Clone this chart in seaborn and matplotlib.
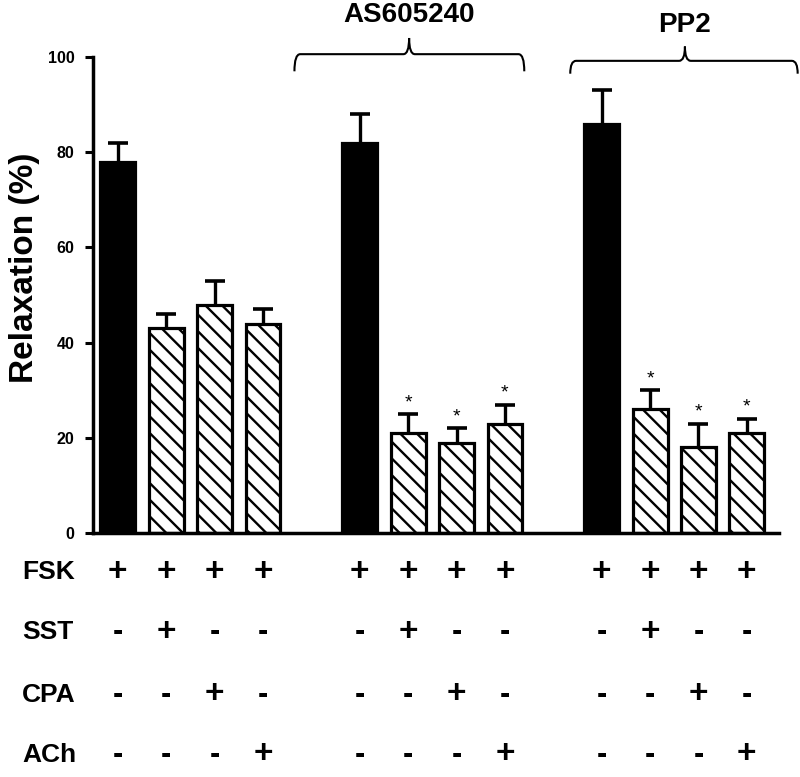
import numpy as np
import pandas as pd
import matplotlib
matplotlib.use("Agg")
import matplotlib.pyplot as plt
import seaborn as sns
from matplotlib.path import Path
from matplotlib.patches import PathPatch
from matplotlib.transforms import blended_transform_factory

# ---------------- data ----------------
positions = [0, 1, 2, 3, 5, 6, 7, 8, 10, 11, 12, 13]
values = [78, 43, 48, 44, 82, 21, 19, 23, 86, 26, 18, 21]
errors = [4, 3, 5, 3, 6, 4, 3, 4, 7, 4, 5, 3]
kinds = ["ctrl", "treat", "treat", "treat"] * 3
significant = [False, False, False, False,
               False, True, True, True,
               False, True, True, True]
row_labels = ["FSK", "SST", "CPA", "ACh"]
fsk = ["+", "+", "+", "+"] * 3
sst = ["-", "+", "-", "-"] * 3
cpa = ["-", "-", "+", "-"] * 3
ach = ["-", "-", "-", "+"] * 3
group_labels = ["AS605240", "PP2"]
y_ticks = [0, 20, 40, 60, 80, 100]

df = pd.DataFrame({"pos": positions, "value": values, "err": errors, "kind": kinds})

# ---------------- style ----------------
sns.set_style("ticks")
plt.rcParams["font.family"] = ["Liberation Sans", "DejaVu Sans"]
plt.rcParams["text.color"] = "black"
plt.rcParams["axes.labelcolor"] = "black"
plt.rcParams["xtick.color"] = "black"
plt.rcParams["ytick.color"] = "black"
plt.rcParams["axes.edgecolor"] = "black"
plt.rcParams["hatch.linewidth"] = 1.7

fig = plt.figure(figsize=(8, 7.77), dpi=100)
ax = fig.add_axes([0.116, 0.314, 0.8575, 0.6126])

sns.barplot(data=df, x="pos", y="value", hue="kind",
            palette={"ctrl": "black", "treat": "white"},
            native_scale=True, dodge=False, width=0.72,
            edgecolor="black", linewidth=2.3, errorbar=None,
            legend=False, ax=ax, zorder=2)

for p in ax.patches:
    fc = p.get_facecolor()
    if fc[0] > 0.5:
        p.set_hatch("\\\\")

_, caps, _ = ax.errorbar(df["pos"], df["value"],
                         yerr=[np.zeros(len(df)), df["err"]],
                         fmt="none", ecolor="black", elinewidth=2.4,
                         capsize=7, capthick=2.6, zorder=1)
# keep only the upper caps
for cap in caps:
    if np.allclose(np.asarray(cap.get_ydata(), dtype=float), df["value"].values):
        cap.set_visible(False)

for x, v, e, s in zip(positions, values, errors, significant):
    if s:
        ax.text(x, v + e + 2.4, "*", ha="center", va="center", fontsize=14,
                color="black")

ax.set_xlim(-0.517, 13.66)
ax.set_ylim(0, 100)
ax.set_yticks(y_ticks)
ax.set_yticklabels([str(t) for t in y_ticks], fontsize=11.5, fontweight="bold")
ax.set_xticks([])
ax.set_xlabel("")
ax.set_ylabel("")
ax.tick_params(axis="y", direction="out", length=6, width=2.2, pad=7)
sns.despine(ax=ax)
for side in ("left", "bottom"):
    ax.spines[side].set_linewidth(2.5)

fig.text(25 / 800, 1 - 268 / 777, "Relaxation (%)", rotation=90,
         ha="center", va="center", fontsize=24, fontweight="bold")

# ---------------- brackets ----------------
def brace(x0, x1, xm, yh, yend, ypk, dx=0.12):
    verts = [(x0, yend), (x0, yh), (x0 + dx, yh),
             (xm - dx, yh), (xm, yh), (xm, ypk),
             (xm, yh), (xm + dx, yh),
             (x1 - dx, yh), (x1, yh), (x1, yend)]
    codes = [Path.MOVETO, Path.CURVE3, Path.CURVE3,
             Path.LINETO, Path.CURVE3, Path.CURVE3,
             Path.CURVE3, Path.CURVE3,
             Path.LINETO, Path.CURVE3, Path.CURVE3]
    ax.add_patch(PathPatch(Path(verts, codes), fill=False, lw=1.5,
                           edgecolor="black", clip_on=False))

bracket_geo = [(3.65, 8.40, 6.02, 100.6, 97.0, 104.0, 107.3),
               (9.35, 14.05, 11.72, 99.2, 96.5, 102.2, 105.2)]
for lab, (x0, x1, xm, yh, ye, yp, yt) in zip(group_labels, bracket_geo):
    brace(x0, x1, xm, yh, ye, yp)
    ax.text(xm, yt, lab, ha="center", va="baseline", fontsize=20,
            fontweight="bold", clip_on=False)

# ---------------- treatment table ----------------
trans = blended_transform_factory(ax.transData, fig.transFigure)
row_y = [1 - 572 / 777, 1 - 632 / 777, 1 - 695 / 777, 1 - 755 / 777]
for lab, marks, yy in zip(row_labels, [fsk, sst, cpa, ach], row_y):
    fig.text(22 / 800, yy, lab, ha="left", va="center", fontsize=19,
             fontweight="bold")
    for x, m in zip(positions, marks):
        ax.text(x, yy, m, transform=trans, ha="center", va="center",
                fontsize=24 if m == "+" else 22, fontweight="bold",
                clip_on=False)

fig.savefig("out.png", dpi=100)
